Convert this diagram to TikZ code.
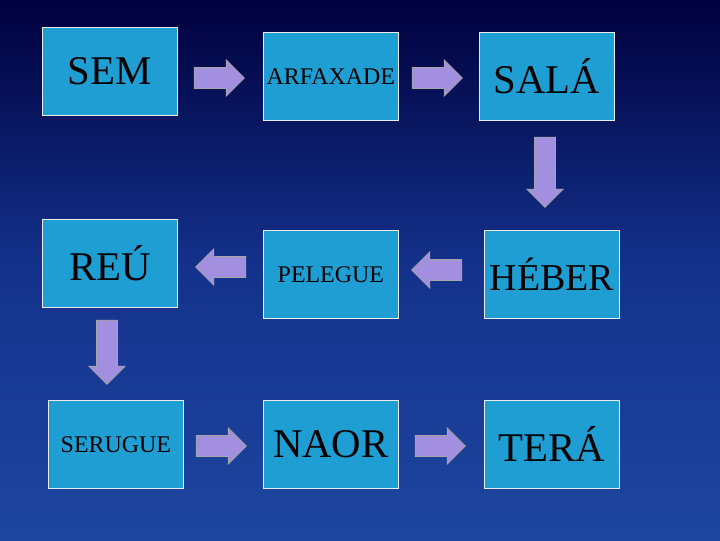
\documentclass[tikz,border=0pt]{standalone}
\usepackage{fontspec}
\setmainfont{Liberation Serif}
\usetikzlibrary{shapes.arrows}
\definecolor{boxc}{HTML}{1E9ED3}
\definecolor{arrc}{HTML}{A38FE0}
\begin{document}
\begin{tikzpicture}[x=0.025cm,y=-0.025cm,
  bx/.style={draw=white!85!gray,fill=boxc,line width=0.6pt,inner sep=0pt,minimum width=3.37cm,minimum height=2.2cm,anchor=north west,text=black},
  big/.style={font=\fontsize{29}{30}\selectfont},
  sml/.style={font=\fontsize{17}{18}\selectfont},
  ar/.style={single arrow,draw=gray!70,fill=arrc,line width=0.6pt,minimum height=1.25cm,minimum width=0.88cm,single arrow head extend=0.19cm,inner xsep=0pt,inner ysep=0.25cm,text height=0pt,text depth=0pt}]
\shade[top color=black!60!blue!60!black,bottom color={rgb,255:red,30;green,70;blue,160},middle color={rgb,255:red,20;green,50;blue,140}] (0,0) rectangle (720,540);
\useasboundingbox (0,0) rectangle (720,540);
\node[bx,big] (sem) at (42,27) {SEM};
\node[bx,sml] (arf) at (263,32) {ARFAXADE};
\node[bx,big] (sal) at (479,32) {SALÁ};
\node[bx,big] (reu) at (42,219) {REÚ};
\node[bx,sml] (pel) at (263,230) {PELEGUE};
\node[bx,big,font=\fontsize{27}{28}\selectfont] (heb) at (484,230) {HÉBER};
\node[bx,sml] (ser) at (48,400) {SERUGUE};
\node[bx,big] (nao) at (263,400) {NAOR};
\node[bx,big] (ter) at (484,400) {TERÁ};
\node[ar] (a1) at (214,78) {};
\node[ar] (a2) at (432,78) {};
\node[ar,rotate=-90,minimum height=1.75cm] (a3) at (545,167) {};
\node[ar,rotate=180] (a4) at (226,267) {};
\node[ar,rotate=180] (a5) at (442,270) {};
\node[ar,rotate=-90,minimum height=1.6cm] (a6) at (107,347) {};
\node[ar] (a7) at (216,446) {};
\node[ar] (a8) at (435,446) {};
\end{tikzpicture}
\end{document}
